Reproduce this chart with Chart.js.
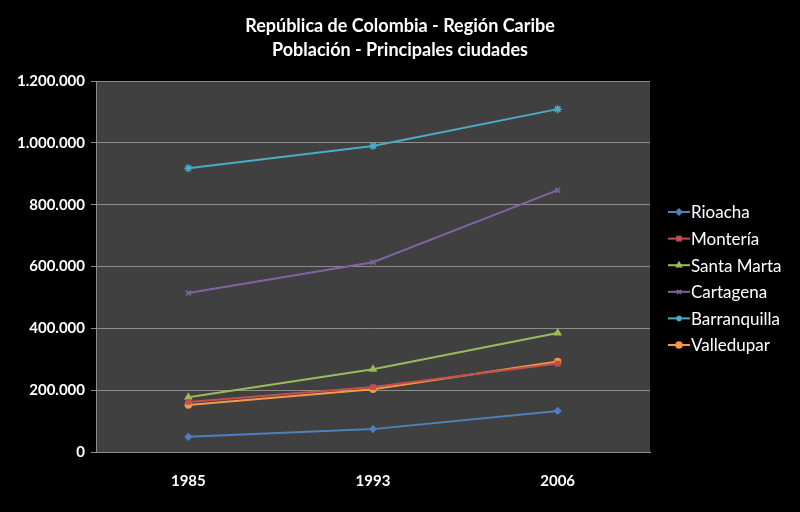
<!DOCTYPE html>
<html lang="es">
<head>
<meta charset="UTF-8">
<title>República de Colombia - Región Caribe</title>
<script src="https://cdn.jsdelivr.net/npm/chart.js"></script>
<style>
    body { margin: 0; background: #000; }
    #wrap { width: 800px; height: 512px; }
</style>
</head>
<body>
<div id="wrap"><canvas id="grafico" width="800" height="512"></canvas></div>
<script>
    // Datos
    const anios = ['1985', '1993', '2006'];
    const ciudades = ['Rioacha', 'Montería', 'Santa Marta', 'Cartagena', 'Barranquilla', 'Valledupar'];
    const rioacha = [49000, 74000, 133000];
    const monteria = [162000, 210000, 286000];
    const santaMarta = [177000, 268000, 385000];
    const cartagena = [514000, 614000, 847000];
    const barranquilla = [918000, 990000, 1109000];
    const valledupar = [152000, 203000, 293000];
    const titulo = ['República de Colombia - Región Caribe', 'Población - Principales ciudades'];

    const series = [rioacha, monteria, santaMarta, cartagena, barranquilla, valledupar];
    const colores = ['#4f81bd', '#c0504d', '#9bbb59', '#8064a2', '#4bacc6', '#f79646'];
    const marcas = ['rectRot', 'rect', 'triangle', 'crossRot', 'star', 'circle'];
    const tamanos = [3, 3, 3.5, 3.5, 4, 3];

    const FUENTE = 'Lato, "Open Sans", sans-serif';

    function miles(v) {
        return String(v).replace(/\B(?=(\d{3})+(?!\d))/g, '.');
    }

    // fondo, titulo y leyenda dibujados a mano
    const decorado = {
        id: 'decorado',
        beforeDraw(chart) {
            const c = chart.ctx, a = chart.chartArea;
            c.save();
            c.fillStyle = '#000';
            c.fillRect(0, 0, chart.width, chart.height);
            c.fillStyle = '#404040';
            c.fillRect(a.left, a.top, a.right - a.left, a.bottom - a.top);
            c.restore();
        },
        afterDraw(chart) {
            const c = chart.ctx;
            c.save();
            c.fillStyle = '#fff';
            c.textAlign = 'center';
            c.textBaseline = 'middle';
            c.font = 'bold 18px ' + FUENTE;
            c.fillText(titulo[0], 400, 26);
            c.fillText(titulo[1], 400, 50);

            c.font = '17px ' + FUENTE;
            c.textAlign = 'left';
            chart.data.datasets.forEach((ds, i) => {
                const y = 212 + i * 26.6;
                c.strokeStyle = ds.borderColor;
                c.fillStyle = ds.borderColor;
                c.lineWidth = 2;
                c.beginPath();
                c.moveTo(668, y);
                c.lineTo(690, y);
                c.stroke();
                c.lineWidth = 1.5;
                Chart.helpers.drawPoint(c, {
                    pointStyle: ds.pointStyle, radius: 3, rotation: 0, borderWidth: 1.5
                }, 679, y);
                c.fillStyle = '#fff';
                c.fillText(ds.label, 691, y + 1);
            });
            c.restore();
        }
    };

    new Chart(document.getElementById('grafico'), {
        type: 'line',
        data: {
            labels: anios,
            datasets: series.map((d, i) => ({
                label: ciudades[i],
                data: d,
                borderColor: colores[i],
                backgroundColor: colores[i],
                borderWidth: 2,
                pointStyle: marcas[i],
                pointRadius: tamanos[i],
                pointBorderWidth: 1.5,
                tension: 0
            }))
        },
        options: {
            responsive: false,
            animation: false,
            layout: { padding: { top: 81, right: 150, left: 0, bottom: 0 } },
            plugins: {
                legend: { display: false },
                title: { display: false },
                tooltip: { enabled: false }
            },
            scales: {
                x: {
                    offset: true,
                    grid: { display: false, drawTicks: false },
                    border: { color: '#8c8c8c', width: 1 },
                    ticks: { color: '#fff', padding: 20, font: { family: FUENTE, size: 15, weight: 'bold' } },
                    afterFit(s) { s.height = 60; }
                },
                y: {
                    min: 0,
                    max: 1200000,
                    ticks: {
                        stepSize: 200000,
                        color: '#fff',
                        padding: 6,
                        font: { family: FUENTE, size: 15, weight: 'bold' },
                        callback: v => miles(v)
                    },
                    grid: { color: '#8c8c8c', lineWidth: 1, tickLength: 5, tickColor: '#8c8c8c' },
                    border: { color: '#8c8c8c', width: 1 },
                    afterFit(s) { s.width = 96; }
                }
            }
        },
        plugins: [decorado]
    });
</script>
</body>
</html>
